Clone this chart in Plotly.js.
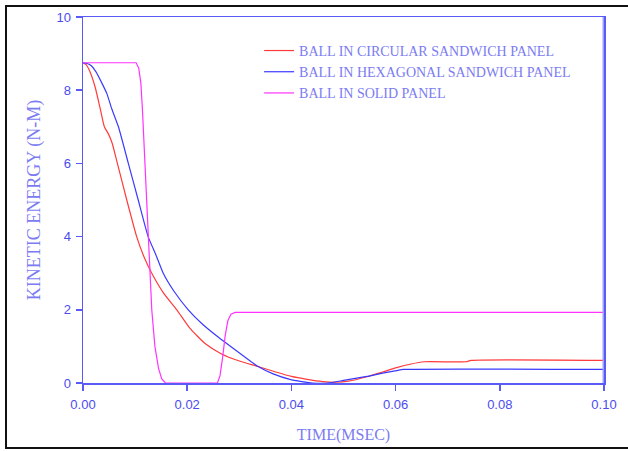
<!DOCTYPE html>
<html>
<head>
<meta charset="utf-8">
<script src="https://cdn.plot.ly/plotly-3.0.1.min.js"></script>
<style>
  html, body { margin: 0; padding: 0; background: #ffffff; overflow: hidden; }
  #wrap { position: relative; width: 628px; height: 451px; }
  #frame { position: absolute; left: 5px; top: 5px; width: 640px; height: 444px; border: 2px solid #111; box-sizing: border-box; pointer-events: none; z-index: 5; }
  #chart { position: absolute; left: 0; top: 0; width: 628px; height: 451px; }
</style>
</head>
<body>
<div id="wrap">
  <div id="chart"></div>
  <div id="frame"></div>
</div>
<script>
// Series names
const seriesNames = [
  "BALL IN CIRCULAR SANDWICH PANEL",
  "BALL IN HEXAGONAL SANDWICH PANEL",
  "BALL IN SOLID PANEL"
];

// Circular sandwich panel (red)
const circX = [0, 0.0006, 0.0012, 0.0023, 0.0033, 0.0041, 0.0049, 0.0056, 0.0066, 0.0084, 0.0103, 0.0117, 0.0132, 0.0155, 0.0180, 0.0205, 0.0235, 0.0265, 0.0300, 0.0336, 0.0370, 0.0400, 0.0430, 0.0460, 0.0485, 0.0510, 0.0545, 0.0575, 0.0602, 0.0630, 0.0655, 0.0735, 0.0745, 0.1000];
const circY = [8.75, 8.7, 8.55, 8.1, 7.5, 7.0, 6.8, 6.55, 6.0, 5.0, 4.0, 3.45, 3.0, 2.45, 2.0, 1.5, 1.07, 0.8, 0.6, 0.45, 0.3, 0.18, 0.1, 0.04, 0.02, 0.05, 0.17, 0.3, 0.42, 0.52, 0.58, 0.58, 0.62, 0.62];

// Hexagonal sandwich panel (blue)
const hexX = [0, 0.0008, 0.0016, 0.0025, 0.0036, 0.0046, 0.0055, 0.0068, 0.0087, 0.0106, 0.0125, 0.0140, 0.0154, 0.0175, 0.0202, 0.0230, 0.0260, 0.0288, 0.0310, 0.0336, 0.0365, 0.0397, 0.0420, 0.0440, 0.0470, 0.0500, 0.0545, 0.0575, 0.0602, 0.0615, 0.1000];
const hexY = [8.75, 8.73, 8.67, 8.5, 8.2, 7.9, 7.5, 7.0, 6.0, 5.0, 4.0, 3.5, 3.0, 2.5, 2.0, 1.6, 1.25, 0.95, 0.72, 0.45, 0.25, 0.1, 0.04, 0.0, 0.0, 0.07, 0.18, 0.27, 0.34, 0.37, 0.37];

// Solid panel (magenta)
const solidX = [0, 0.0102, 0.0107, 0.0111, 0.0114, 0.0117, 0.0120, 0.0125, 0.0132, 0.0138, 0.0145, 0.0151, 0.0158, 0.0258, 0.0263, 0.0268, 0.0273, 0.0278, 0.0284, 0.0292, 0.1000];
const solidY = [8.75, 8.75, 8.6, 8.2, 7.5, 6.6, 5.7, 4.0, 2.0, 1.0, 0.4, 0.12, 0.0, 0.0, 0.2, 0.7, 1.3, 1.7, 1.88, 1.93, 1.93];

// Axis ticks
const xTicks = [0, 0.02, 0.04, 0.06, 0.08, 0.10];
const xTickText = ["0.00", "0.02", "0.04", "0.06", "0.08", "0.10"];
const yTicks = [0, 2, 4, 6, 8, 10];

const axisBlue = "#5a5af5";
const labelBlue = "#4b4bef";
const titleBlue = "#7b7bf2";

const traces = [
  { x: circX, y: circY, name: seriesNames[0], mode: "lines", line: { color: "#ff3b3b", width: 1.2, shape: "spline", smoothing: 0.5 } },
  { x: hexX, y: hexY, name: seriesNames[1], mode: "lines", line: { color: "#3a3aff", width: 1.2, shape: "spline", smoothing: 0.5 } },
  { x: solidX, y: solidY, name: seriesNames[2], mode: "lines", line: { color: "#ff33ff", width: 1.2 } }
];

const layout = {
  width: 628, height: 451,
  margin: { l: 83, r: 24, t: 17, b: 68 },
  paper_bgcolor: "#ffffff", plot_bgcolor: "#ffffff",
  showlegend: true,
  legend: {
    x: 0.338, y: 0.951, xanchor: "left", yanchor: "top",
    bgcolor: "rgba(0,0,0,0)", borderwidth: 0,
    font: { family: "Liberation Serif, serif", size: 14, color: titleBlue },
    tracegroupgap: 0, itemwidth: 30
  },
  xaxis: {
    range: [0, 0.1], tickvals: xTicks, ticktext: xTickText,
    showgrid: false, zeroline: false,
    showline: true, mirror: true, linecolor: axisBlue, linewidth: 1.5,
    ticks: "outside", ticklen: 6, tickcolor: axisBlue, tickwidth: 1.5,
    ticklabelstandoff: 3,
    tickfont: { family: "Liberation Sans, Arial, sans-serif", size: 13, color: labelBlue },
    title: { text: "TIME(MSEC)", standoff: 17, font: { family: "Liberation Serif, serif", size: 16, color: titleBlue } }
  },
  yaxis: {
    range: [0, 10], tickvals: yTicks,
    showgrid: false, zeroline: false,
    showline: true, mirror: true, linecolor: axisBlue, linewidth: 1.5,
    ticks: "outside", ticklen: 6, tickcolor: axisBlue, tickwidth: 1.5,
    ticklabelstandoff: 2,
    tickfont: { family: "Liberation Sans, Arial, sans-serif", size: 13, color: labelBlue },
    title: { text: "KINETIC ENERGY (N-M)", standoff: 11, font: { family: "Liberation Serif, serif", size: 18, color: titleBlue } }
  },
  shapes: [
    { type: "line", xref: "x", yref: "paper", x0: 0.1, x1: 0.1, y0: 0, y1: 1, line: { color: "#a0a0ff", width: 3 } }
  ]
};

Plotly.newPlot("chart", traces, layout, { displayModeBar: false, staticPlot: true });
</script>
</body>
</html>
